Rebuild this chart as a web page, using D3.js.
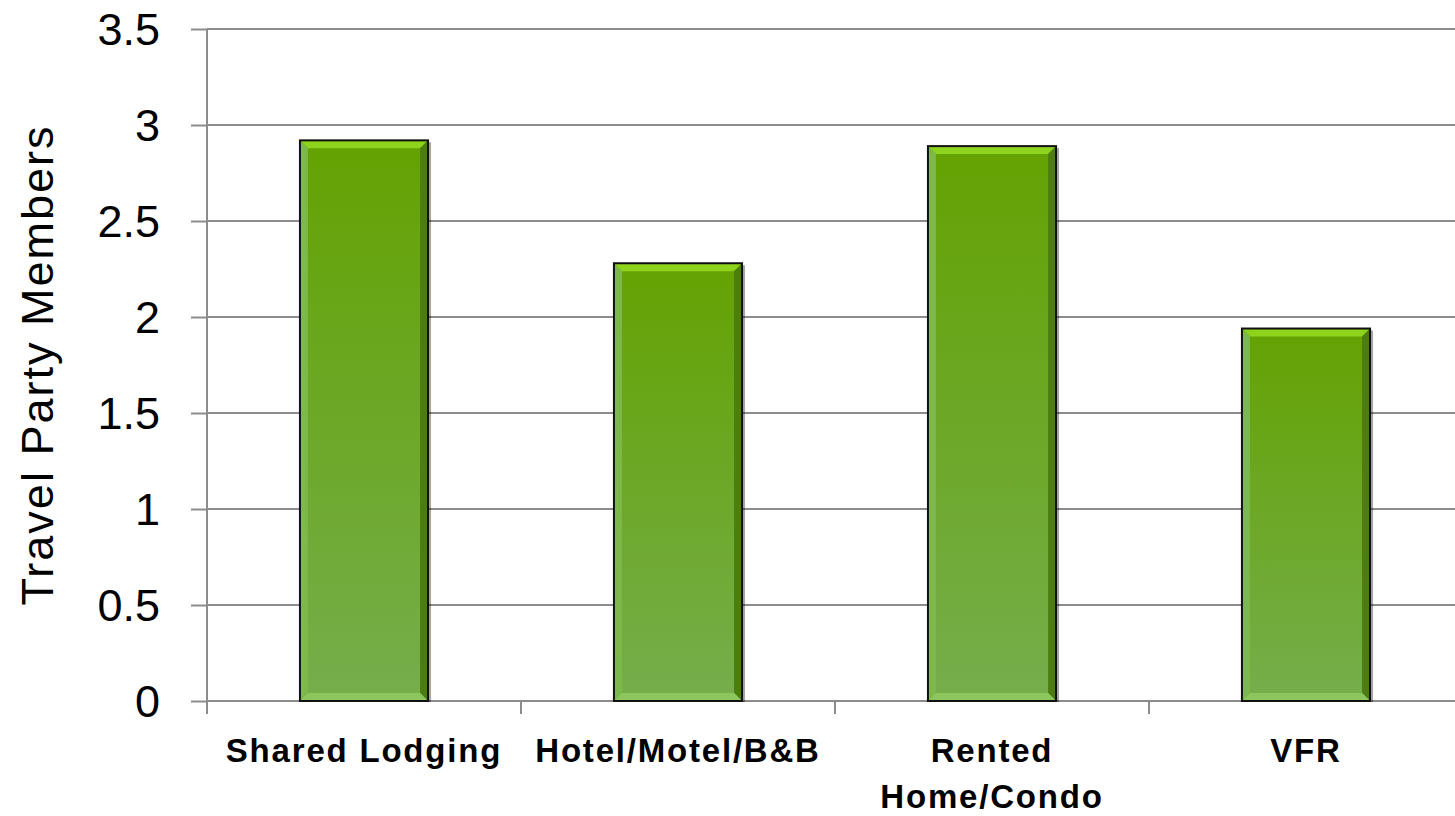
<!DOCTYPE html>
<html><head><meta charset="utf-8">
<script src="https://cdn.jsdelivr.net/npm/d3@7"></script>
<style>html,body{margin:0;padding:0;background:#fff;overflow:hidden}</style>
</head><body>
<svg id="c" width="1455" height="816"></svg>
<script>
const categories = ["Shared Lodging", "Hotel/Motel/B&B", "Rented Home/Condo", "VFR"];
const labelLines = [["Shared Lodging"], ["Hotel/Motel/B&B"], ["Rented", "Home/Condo"], ["VFR"]];
const values = [2.92, 2.28, 2.89, 1.94];
const yTicks = [0, 0.5, 1, 1.5, 2, 2.5, 3, 3.5];
const yTitle = "Travel Party Members";

const svg = d3.select("#c");
const font = "'Liberation Sans', Arial, sans-serif";
const x = d3.scaleBand().domain(categories).range([207, 1463]).paddingInner(0.592).paddingOuter(0.296);
const y = d3.scaleLinear().domain([0, 3.5]).range([701, 29]);

const defs = svg.append("defs");
const g = defs.append("linearGradient").attr("id","bg").attr("x1",0).attr("x2",0).attr("y1",0).attr("y2",1);
g.append("stop").attr("offset","0%").attr("stop-color","#64a202");
g.append("stop").attr("offset","100%").attr("stop-color","#75ae4c");

// gridlines
svg.append("g").selectAll("line").data(yTicks.filter(d=>d>0)).join("line")
  .attr("x1",207).attr("x2",1455).attr("y1",d=>y(d)).attr("y2",d=>y(d))
  .attr("stroke","#8c8c8c").attr("stroke-width",2);

// y axis
const ya = svg.append("g").attr("transform","translate(207,0)")
  .call(d3.axisLeft(y).tickValues(yTicks).tickSize(16).tickPadding(31).tickFormat(d3.format("~g")));
ya.select(".domain").attr("stroke","#8c8c8c").attr("stroke-width",2).attr("d","M0,29V701");
ya.selectAll(".tick line").attr("stroke","#8c8c8c").attr("stroke-width",2);
ya.selectAll(".tick text").attr("font-family",font).attr("font-size",45).attr("fill","#000").attr("dy","0.35em");

// x axis
const xa = svg.append("g").attr("transform","translate(0,701)");
xa.append("line").attr("x1",207).attr("x2",1455).attr("stroke","#8c8c8c").attr("stroke-width",2);
const step = x.step();
xa.selectAll("line.t").data(d3.range(0, categories.length+1)).join("line").attr("class","t")
  .attr("x1",i=>207+i*step).attr("x2",i=>207+i*step).attr("y1",0).attr("y2",13)
  .attr("stroke","#8c8c8c").attr("stroke-width",2);

// bars
const bw = x.bandwidth(), b = 8;
const bars = svg.append("g").selectAll("g").data(values).join("g")
  .attr("transform",(d,i)=>`translate(${x(categories[i])},${y(d)})`);
bars.append("rect").attr("width",bw).attr("height",d=>y(0)-y(d)).attr("fill","url(#bg)");
bars.append("path").attr("fill","#8fd41c").attr("d",d=>`M0,0H${bw}L${bw-b},${b}H${b}Z`);
bars.append("path").attr("fill","#4d7d12").attr("d",d=>{const h=y(0)-y(d);return `M${bw},0V${h}L${bw-b},${h-b}V${b}Z`;});
bars.append("path").attr("fill","#7cb84a").attr("d",d=>{const h=y(0)-y(d);return `M0,0V${h}L${b},${h-b}V${b}Z`;});
bars.append("path").attr("fill","#8cc75e").attr("d",d=>{const h=y(0)-y(d);return `M0,${h}H${bw}L${bw-b},${h-b}H${b}Z`;});
bars.append("rect").attr("width",bw).attr("height",d=>y(0)-y(d)).attr("fill","none")
  .attr("stroke","#111").attr("stroke-width",2);
bars.append("line").attr("x1",bw+2).attr("x2",bw+2).attr("y1",2).attr("y2",d=>y(0)-y(d)+1)
  .attr("stroke","#000").attr("stroke-opacity",0.35).attr("stroke-width",2);

// category labels
svg.append("g").selectAll("text").data(labelLines).join("text")
  .attr("x",(d,i)=>x(categories[i])+bw/2).attr("y",762)
  .attr("text-anchor","middle").attr("font-family",font).attr("font-weight","bold")
  .attr("font-size",33).attr("letter-spacing",1.8).attr("fill","#000")
  .selectAll("tspan").data(d=>d).join("tspan")
  .attr("x",function(){return this.parentNode.getAttribute("x");}).attr("dy",(d,i)=>i?46:0).text(d=>d);

// y title
svg.append("text").attr("transform","translate(53,365) rotate(-90)").attr("text-anchor","middle")
  .attr("font-family",font).attr("font-size",45).attr("letter-spacing",2).attr("fill","#000").text(yTitle);
</script>
</body></html>
